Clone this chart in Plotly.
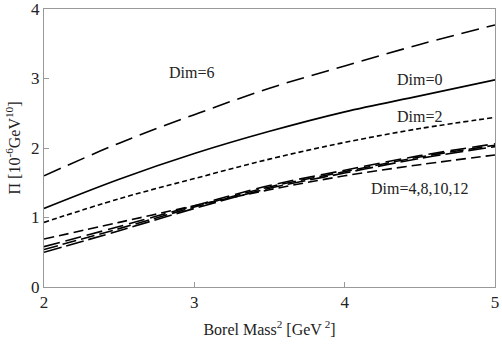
import plotly.graph_objects as go

# Borel mass squared [GeV^2]
borel_m2 = [2.0, 2.5, 3.0, 3.5, 4.0, 4.5, 5.0]

# Pi [10^-6 GeV^10] for each dimension truncation
dim0 = [1.13, 1.55, 1.92, 2.24, 2.52, 2.75, 2.98]
dim2 = [0.93, 1.27, 1.56, 1.84, 2.08, 2.28, 2.44]
dim6 = [1.60, 2.07, 2.48, 2.86, 3.18, 3.49, 3.77]
dim4 = [0.69, 0.93, 1.17, 1.40, 1.60, 1.76, 1.90]
dim8 = [0.58, 0.87, 1.17, 1.46, 1.68, 1.89, 2.06]
dim10 = [0.54, 0.84, 1.15, 1.44, 1.66, 1.87, 2.04]
dim12 = [0.50, 0.81, 1.13, 1.42, 1.64, 1.85, 2.02]

FONT = "Liberation Serif"

fig = go.Figure()

curves = [
    (dim6, "18px,8px"),
    (dim0, "solid"),
    (dim2, "5px,3px"),
    (dim4, "10px,5px"),
    (dim8, "16px,6px"),
    (dim10, "14px,5px"),
    (dim12, "18px,5px"),
]
for ys, dash in curves:
    fig.add_trace(go.Scatter(
        x=borel_m2, y=ys, mode="lines", line_shape="spline",
        line=dict(color="black", width=1.6, dash=dash),
        showlegend=False, hoverinfo="skip"
    ))

# curve labels
labels = [
    ("Dim=6", 2.98, 3.08),
    ("Dim=0", 4.50, 2.98),
    ("Dim=2", 4.50, 2.45),
    ("Dim=4,8,10,12", 4.50, 1.42),
]
for txt, lx, ly in labels:
    fig.add_annotation(x=lx, y=ly, text=txt, showarrow=False,
                       font=dict(family=FONT, size=16, color="#222"))

axis_common = dict(
    showgrid=False, zeroline=False, showline=True, mirror=True,
    linecolor="#999", linewidth=1, ticks="inside", ticklen=5,
    tickcolor="#999", tickfont=dict(family=FONT, size=17, color="#222"),
    automargin=False, ticklabeloverflow="allow",
)

fig.update_xaxes(range=[2, 5], tick0=2, dtick=1,
                 title=dict(text="Borel Mass<sup>2</sup> [GeV<sup> 2</sup>]",
                            font=dict(family=FONT, size=16, color="#222"),
                            standoff=12),
                 **axis_common)
fig.update_yaxes(range=[0, 4], tick0=0, dtick=1,
                 title=dict(text="\u03a0 [10<sup>-6</sup>GeV<sup>10</sup>]",
                            font=dict(family=FONT, size=16, color="#222"),
                            standoff=6),
                 **axis_common)

fig.update_layout(
    width=502, height=346,
    margin=dict(l=44, r=7, t=9, b=59),
    plot_bgcolor="white", paper_bgcolor="white",
    font=dict(family=FONT),
)

# drop the default body margin so the figure sits at the page origin
fig.write_html("out.html", config={"displayModeBar": False},
               post_script="document.body.style.margin='0';")
